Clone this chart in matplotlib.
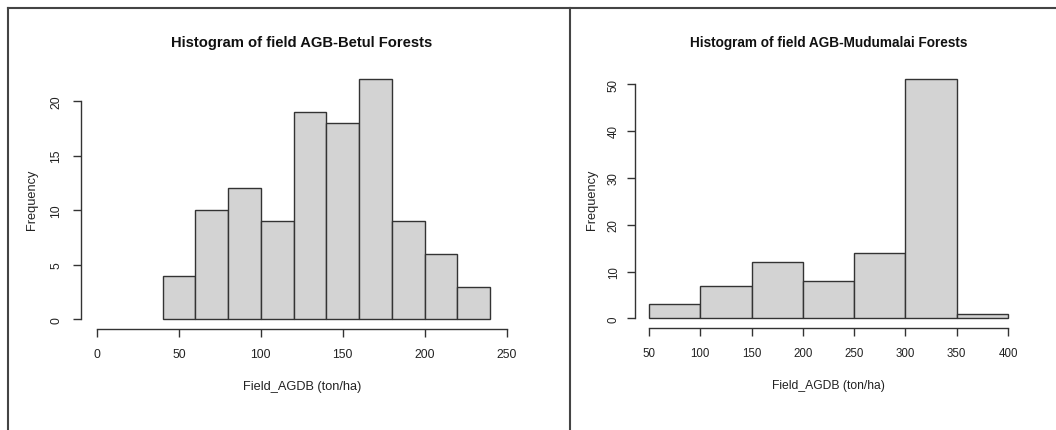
import numpy as np
import matplotlib
matplotlib.use("Agg")
from matplotlib import pyplot as plt
from matplotlib.lines import Line2D

plt.rcParams['font.family'] = ['Liberation Sans', 'DejaVu Sans']

# Betul forests
betul_edges = [40, 60, 80, 100, 120, 140, 160, 180, 200, 220, 240]
betul_counts = [4, 10, 12, 9, 19, 18, 22, 9, 6, 3]
betul_xticks = [0, 50, 100, 150, 200, 250]
betul_yticks = [0, 5, 10, 15, 20]

# Mudumalai forests
mudu_edges = [50, 100, 150, 200, 250, 300, 350, 400]
mudu_counts = [3, 7, 12, 8, 14, 51, 1]
mudu_xticks = [50, 100, 150, 200, 250, 300, 350, 400]
mudu_yticks = [0, 10, 20, 30, 40, 50]

W, H = 1056, 431
fig = plt.figure(figsize=(W / 100, H / 100), dpi=100)
txt = '#222222'


def px_axes(x0, x1, ytop, ybot):
    return fig.add_axes([x0 / W, (H - ybot) / H, (x1 - x0) / W, (ybot - ytop) / H])


def r_hist(ax, box, edges, counts, xlim, xticks, yticks, title,
           title_fs, tick_fs, xlab_fs, ylab_fs, ylab_x, ytick_x):
    x0, x1, ytop, ybot = box
    edges = np.array(edges)
    ax.bar(edges[:-1], counts, width=np.diff(edges), align='edge',
           color='#d3d3d3', edgecolor='#333333', linewidth=1.0)
    ax.set_xlim(xlim[0] - 0.04 * (xlim[1] - xlim[0]), xlim[1] + 0.04 * (xlim[1] - xlim[0]))
    ymax = max(counts)
    ax.set_ylim(-0.04 * ymax, ymax * 1.04)
    for s in ['top', 'right']:
        ax.spines[s].set_visible(False)
    for s in ['left', 'bottom']:
        ax.spines[s].set_color('#333333')
        ax.spines[s].set_linewidth(1.0)
    ax.spines['bottom'].set_bounds(xticks[0], xticks[-1])
    ax.spines['left'].set_bounds(yticks[0], yticks[-1])
    ax.set_xticks(xticks)
    ax.set_yticks(yticks)
    ax.tick_params(axis='both', colors='#333333', labelcolor=txt, labelsize=tick_fs,
                   length=6, width=1.0)
    ax.tick_params(axis='x', pad=8)
    # y tick labels centred at a given pixel column
    ax.tick_params(axis='y', pad=(x0 - ytick_x - 6 - tick_fs * 100 / 72 * 0.45) * 72 / 100)
    for lab in ax.get_yticklabels():
        lab.set_rotation(90)
        lab.set_va('center')
    ax.set_xlabel('Field_AGDB (ton/ha)', color=txt, fontsize=xlab_fs, labelpad=14)
    ax.set_ylabel('Frequency', color=txt, fontsize=ylab_fs, va='center')
    ax.yaxis.set_label_coords((ylab_x - x0) / (x1 - x0), 0.5)
    fig.text((x0 + x1) / 2 / W, 1 - 43 / H, title, ha='center', va='center',
             fontweight='bold', fontsize=title_fs, color='#111111')


box1 = (80.6, 523, 70.6, 330)
ax1 = px_axes(*box1)
r_hist(ax1, box1, betul_edges, betul_counts, (0, 250), betul_xticks, betul_yticks,
       'Histogram of field AGB-Betul Forests', 10.6, 8.7, 9.2, 9.2, 32, 59)

box2 = (634.6, 1022.4, 70.8, 329)
ax2 = px_axes(*box2)
r_hist(ax2, box2, mudu_edges, mudu_counts, (50, 400), mudu_xticks, mudu_yticks,
       'Histogram of field AGB-Mudumalai Forests', 9.8, 8.3, 8.7, 9.2, 592, 617)

# outer frame of the screenshot
frame = dict(color='#444444', linewidth=1.5, transform=fig.transFigure)
fig.add_artist(Line2D([8 / W, 1.0], [(H - 9) / H, (H - 9) / H], **frame))
fig.add_artist(Line2D([8 / W, 8 / W], [0, (H - 9) / H], **frame))
fig.add_artist(Line2D([570 / W, 570 / W], [0, (H - 9) / H], **frame))

fig.savefig('out.png', dpi=100)
